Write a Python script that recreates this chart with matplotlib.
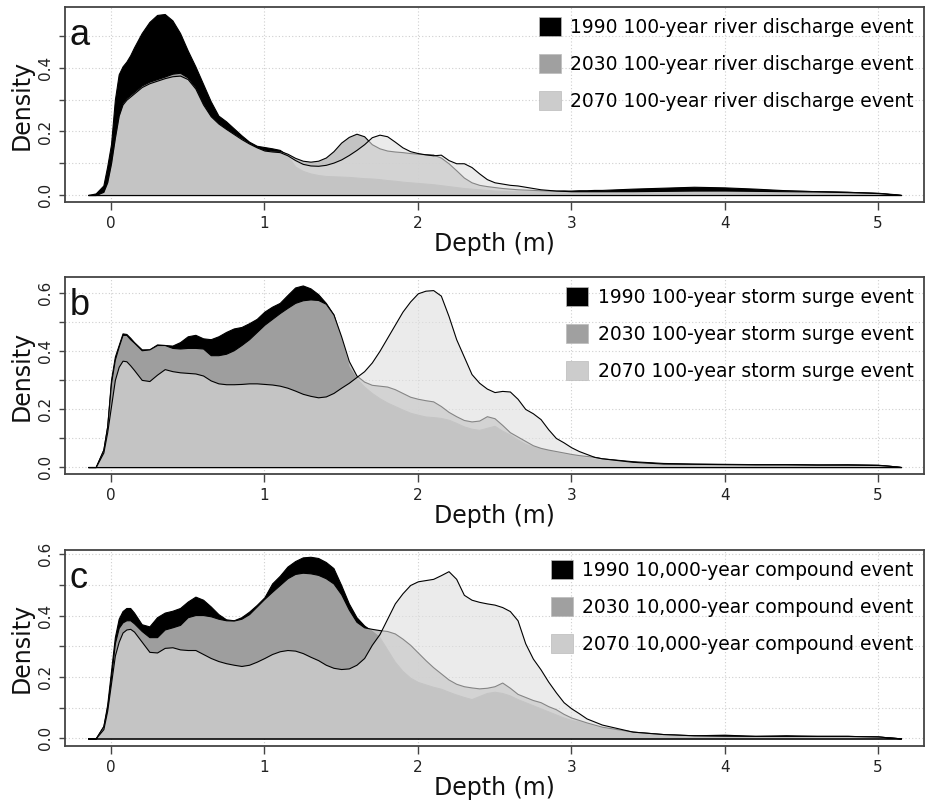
import matplotlib
matplotlib.use('Agg')
import matplotlib.pyplot as plt
from matplotlib.patches import Patch

plt.rcParams['font.family'] = 'DejaVu Sans'

# depth grid (m) shared by all densities
depth = [-0.15, -0.1, -0.05, -0.025, 0, 0.025, 0.05, 0.075, 0.1, 0.125, 0.15,
         0.2, 0.25, 0.3, 0.35, 0.4, 0.45, 0.5, 0.55, 0.6, 0.65,
         0.7, 0.75, 0.8, 0.85, 0.9, 0.95, 1.0, 1.05, 1.1, 1.15,
         1.2, 1.25, 1.3, 1.35, 1.4, 1.45, 1.5, 1.55, 1.6, 1.65,
         1.7, 1.75, 1.8, 1.85, 1.9, 1.95, 2.0, 2.05, 2.1, 2.15,
         2.2, 2.25, 2.3, 2.35, 2.4, 2.45, 2.5, 2.55, 2.6, 2.65,
         2.7, 2.75, 2.8, 2.85, 2.9, 2.95, 3.0, 3.05, 3.1, 3.15,
         3.2, 3.4, 3.6, 3.8, 4.0, 4.2, 4.4, 4.6, 4.8, 5.0, 5.1, 5.15]

# (a) 100-year river discharge
a_1990 = [0, 0.005, 0.03, 0.09, 0.16, 0.30, 0.38, 0.405, 0.42, 0.44, 0.465,
          0.51, 0.545, 0.567, 0.57, 0.55, 0.51, 0.455, 0.405, 0.35, 0.295,
          0.25, 0.232, 0.21, 0.188, 0.168, 0.155, 0.151, 0.147, 0.142, 0.125,
          0.09, 0.076, 0.068, 0.063, 0.06, 0.059, 0.058, 0.057, 0.055, 0.053,
          0.052, 0.05, 0.047, 0.045, 0.042, 0.04, 0.038, 0.036, 0.034, 0.031,
          0.028, 0.025, 0.022, 0.02, 0.018, 0.016, 0.014, 0.013, 0.012, 0.012,
          0.012, 0.012, 0.012, 0.013, 0.013, 0.014, 0.014, 0.015, 0.015, 0.016,
          0.016, 0.02, 0.023, 0.026, 0.024, 0.02, 0.015, 0.012, 0.01, 0.006, 0.002, 0]
a_2030 = [0, 0, 0.01, 0.04, 0.1, 0.18, 0.25, 0.29, 0.305, 0.315, 0.325,
          0.345, 0.357, 0.365, 0.373, 0.382, 0.385, 0.37, 0.34, 0.29, 0.25,
          0.228, 0.21, 0.195, 0.18, 0.165, 0.152, 0.143, 0.14, 0.139, 0.13,
          0.117, 0.108, 0.105, 0.108, 0.118, 0.138, 0.165, 0.183, 0.193, 0.185,
          0.16, 0.147, 0.14, 0.137, 0.135, 0.132, 0.13, 0.128, 0.127, 0.118,
          0.1, 0.078, 0.055, 0.04, 0.032, 0.028, 0.025, 0.022, 0.02, 0.018,
          0.017, 0.016, 0.015, 0.014, 0.013, 0.013, 0.012, 0.012, 0.012, 0.012,
          0.012, 0.013, 0.014, 0.015, 0.016, 0.015, 0.014, 0.012, 0.01, 0.007, 0.003, 0]
a_2070 = [0, 0, 0.01, 0.04, 0.1, 0.18, 0.25, 0.285, 0.3, 0.31, 0.32,
          0.34, 0.352, 0.36, 0.368, 0.374, 0.376, 0.365, 0.335, 0.285, 0.248,
          0.225, 0.208, 0.192, 0.176, 0.162, 0.15, 0.14, 0.137, 0.135, 0.125,
          0.11, 0.098, 0.093, 0.092, 0.095, 0.102, 0.112, 0.126, 0.142, 0.16,
          0.182, 0.19, 0.185, 0.168, 0.15, 0.138, 0.132, 0.128, 0.125, 0.127,
          0.11, 0.1, 0.1, 0.088, 0.068, 0.05, 0.04, 0.036, 0.032, 0.03,
          0.026, 0.022, 0.018, 0.016, 0.014, 0.013, 0.012, 0.012, 0.012, 0.012,
          0.012, 0.012, 0.013, 0.014, 0.014, 0.013, 0.012, 0.011, 0.009, 0.006, 0.002, 0]

# (b) 100-year storm surge
b_1990 = [0, 0, 0.06, 0.14, 0.3, 0.38, 0.42, 0.46, 0.458, 0.445, 0.43,
          0.405, 0.405, 0.422, 0.42, 0.418, 0.43, 0.45, 0.455, 0.443, 0.44,
          0.45, 0.465, 0.477, 0.482, 0.495, 0.51, 0.535, 0.552, 0.565, 0.592,
          0.618, 0.625, 0.615, 0.595, 0.565, 0.525, 0.44, 0.345, 0.305, 0.277,
          0.255, 0.237, 0.222, 0.21, 0.198, 0.187, 0.18, 0.174, 0.172, 0.169,
          0.163, 0.152, 0.14, 0.132, 0.128, 0.135, 0.142, 0.125, 0.112, 0.095,
          0.08, 0.07, 0.063, 0.057, 0.05, 0.045, 0.04, 0.036, 0.032, 0.028,
          0.025, 0.018, 0.012, 0.01, 0.009, 0.008, 0.01, 0.008, 0.009, 0.007, 0.003, 0]
b_2030 = [0, 0, 0.06, 0.14, 0.29, 0.37, 0.415, 0.455, 0.455, 0.44, 0.428,
          0.402, 0.405, 0.42, 0.42, 0.41, 0.408, 0.41, 0.41, 0.408, 0.385,
          0.385, 0.39, 0.402, 0.42, 0.44, 0.465, 0.49, 0.51, 0.53, 0.548,
          0.565, 0.574, 0.577, 0.575, 0.562, 0.525, 0.45, 0.365, 0.315, 0.294,
          0.283, 0.28, 0.277, 0.268, 0.255, 0.242, 0.235, 0.23, 0.226, 0.21,
          0.19, 0.175, 0.162, 0.157, 0.16, 0.175, 0.168, 0.145, 0.12, 0.105,
          0.09, 0.075, 0.066, 0.06, 0.055, 0.05, 0.045, 0.041, 0.038, 0.035,
          0.03, 0.02, 0.014, 0.012, 0.011, 0.01, 0.01, 0.009, 0.009, 0.008, 0.003, 0]
b_2070 = [0, 0, 0.05, 0.12, 0.21, 0.3, 0.345, 0.366, 0.364, 0.35, 0.334,
          0.3, 0.296, 0.318, 0.337, 0.33, 0.326, 0.324, 0.322, 0.315, 0.298,
          0.288, 0.285, 0.285, 0.286, 0.288, 0.288, 0.286, 0.284, 0.28, 0.273,
          0.263, 0.252, 0.245, 0.24, 0.243, 0.255, 0.273, 0.29, 0.31, 0.33,
          0.36, 0.4, 0.445, 0.49, 0.535, 0.57, 0.598, 0.607, 0.609, 0.59,
          0.52, 0.44, 0.38, 0.32, 0.29, 0.27, 0.258, 0.262, 0.26, 0.235,
          0.2, 0.185, 0.165, 0.13, 0.1, 0.085, 0.068, 0.055, 0.045, 0.035,
          0.03, 0.018, 0.012, 0.011, 0.01, 0.009, 0.009, 0.008, 0.008, 0.007, 0.003, 0]

# (c) 10,000-year compound event
c_1990 = [0, 0, 0.04, 0.11, 0.22, 0.33, 0.39, 0.415, 0.425, 0.425, 0.41,
          0.372, 0.365, 0.395, 0.41, 0.416, 0.425, 0.446, 0.462, 0.452, 0.43,
          0.405, 0.388, 0.385, 0.395, 0.413, 0.435, 0.46, 0.505, 0.53, 0.56,
          0.578, 0.59, 0.592, 0.588, 0.575, 0.555, 0.5, 0.44, 0.395, 0.368,
          0.35, 0.33, 0.29, 0.25, 0.22, 0.198, 0.184, 0.176, 0.168, 0.162,
          0.152, 0.143, 0.135, 0.128, 0.138, 0.148, 0.152, 0.148, 0.14, 0.128,
          0.118, 0.108, 0.098, 0.088, 0.078, 0.068, 0.06, 0.055, 0.048, 0.04,
          0.034, 0.02, 0.012, 0.01, 0.012, 0.008, 0.01, 0.008, 0.008, 0.006, 0.002, 0]
c_2030 = [0, 0, 0.04, 0.1, 0.2, 0.31, 0.36, 0.378, 0.385, 0.385, 0.375,
          0.35, 0.33, 0.33, 0.355, 0.362, 0.37, 0.395, 0.402, 0.402, 0.398,
          0.39, 0.385, 0.384, 0.39, 0.405, 0.43, 0.455, 0.478, 0.5, 0.522,
          0.536, 0.54, 0.538, 0.533, 0.522, 0.505, 0.47, 0.42, 0.38, 0.362,
          0.357, 0.353, 0.35, 0.342, 0.325, 0.305, 0.28, 0.255, 0.232, 0.212,
          0.192, 0.178, 0.17, 0.166, 0.163, 0.165, 0.17, 0.182, 0.165, 0.145,
          0.135, 0.125, 0.118, 0.105, 0.095, 0.08, 0.068, 0.06, 0.052, 0.045,
          0.038, 0.022, 0.014, 0.01, 0.008, 0.008, 0.008, 0.008, 0.008, 0.006, 0.002, 0]
c_2070 = [0, 0, 0.03, 0.09, 0.18, 0.27, 0.315, 0.345, 0.355, 0.357, 0.348,
          0.315, 0.282, 0.28, 0.295, 0.297, 0.29, 0.288, 0.288, 0.275, 0.262,
          0.252, 0.245, 0.24, 0.236, 0.24, 0.25, 0.262, 0.275, 0.284, 0.288,
          0.286, 0.278, 0.266, 0.255, 0.24, 0.23, 0.226, 0.228, 0.24, 0.262,
          0.305, 0.34, 0.39, 0.44, 0.473, 0.5, 0.512, 0.516, 0.52, 0.532,
          0.545, 0.52, 0.468, 0.452, 0.445, 0.44, 0.436, 0.428, 0.415, 0.385,
          0.31, 0.26, 0.225, 0.185, 0.15, 0.118, 0.098, 0.082, 0.065, 0.055,
          0.045, 0.022, 0.014, 0.01, 0.009, 0.008, 0.008, 0.008, 0.008, 0.006, 0.002, 0]

years = ['1990', '2030', '2070']
events = ['100-year river discharge event', '100-year storm surge event',
          '10,000-year compound event']
letters = ['a', 'b', 'c']
panels = [(a_1990, a_2030, a_2070), (b_1990, b_2030, b_2070), (c_1990, c_2030, c_2070)]
ylims = [(-0.022, 0.592), (-0.024, 0.654), (-0.025, 0.614)]
ytop = [0.5, 0.6, 0.6]

fills = [(0, 0, 0, 1.0), (185/255, 185/255, 185/255, 0.86), (223/255, 223/255, 223/255, 0.6)]
legend_cols = ['#000000', '#a0a0a0', '#cccccc']

fig = plt.figure(figsize=(9.26, 8.06), dpi=100)
boxes = [[0.0702, 0.7494, 0.9277, 0.2419],
         [0.0702, 0.4119, 0.9277, 0.2444],
         [0.0702, 0.0744, 0.9277, 0.2432]]

for i in range(3):
    ax = fig.add_axes(boxes[i])
    for series, fc in zip(panels[i], fills):
        ax.fill_between(depth, series, 0, facecolor=fc, edgecolor='black', linewidth=0.8, zorder=2)

    ax.set_xlim(-0.30, 5.30)
    ax.set_ylim(*ylims[i])
    ax.set_xticks([0, 1, 2, 3, 4, 5])
    yt = [round(0.1 * k, 1) for k in range(int(round(ytop[i] * 10)) + 1)]
    ax.set_yticks(yt)
    ax.set_yticklabels(['%.1f' % v if round(v * 10) % 2 == 0 else '' for v in yt])
    ax.grid(True, color='#cfcfcf', linestyle=(0, (1, 2)), linewidth=0.8, zorder=0)
    ax.set_axisbelow(True)
    for sp in ax.spines.values():
        sp.set_color('#444444')
        sp.set_linewidth(1.3)
    ax.tick_params(axis='x', length=6, width=1, color='#444444', pad=4, labelsize=11, labelcolor='#222222')
    ax.tick_params(axis='y', length=4, width=1, color='#444444', pad=5, labelsize=11, labelcolor='#222222',
                   labelrotation=90)
    for lbl in ax.get_yticklabels():
        lbl.set_va('center')

    ax.set_xlabel('Depth (m)', fontsize=17, color='#111111')
    ax.xaxis.set_label_coords(0.5, -0.215)
    ax.xaxis.label.set_va('center')
    ax.set_ylabel('Density', fontsize=17, color='#111111')
    ax.yaxis.set_label_coords(-0.05, 0.5)
    ax.yaxis.label.set_va('center')

    ax.text(0.005, 0.945, letters[i], transform=ax.transAxes, fontsize=26,
            family='Liberation Sans', va='top', ha='left', color='#111111')

    handles = [Patch(facecolor=c, edgecolor='#bbbbbb', linewidth=0.5) for c in legend_cols]
    labels = [y + ' ' + events[i] for y in years]
    ax.legend(handles, labels, loc='upper right', frameon=False, fontsize=13.5,
              handlelength=1.18, handleheight=1.18, handletextpad=0.5,
              labelspacing=0.9, borderaxespad=0.15, borderpad=0.4)

fig.savefig('out.png', dpi=100)
